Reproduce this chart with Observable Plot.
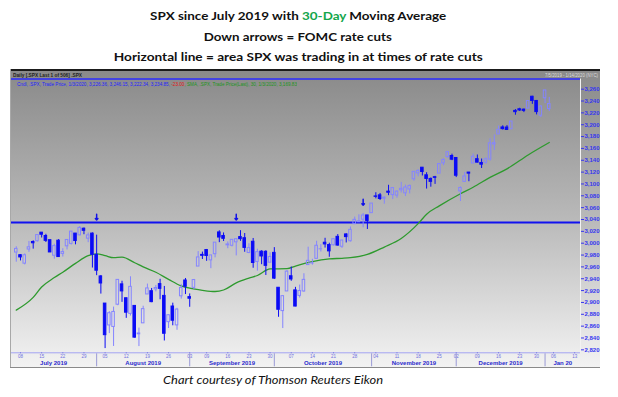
<!DOCTYPE html>
<html><head><meta charset="utf-8">
<script src="https://cdn.jsdelivr.net/npm/d3@7"></script>
<script src="https://cdn.jsdelivr.net/npm/@observablehq/plot@0.6"></script>
<style>
html,body{margin:0;padding:0;background:#fff;}
#page{position:relative;width:618px;height:397px;overflow:hidden;background:#fff;}
.t{position:absolute;left:0;width:596px;text-align:center;font-family:Lato,"Open Sans",sans-serif;font-weight:bold;font-size:12px;line-height:12px;color:#111;white-space:nowrap;}
.fit{display:inline-block;white-space:nowrap;transform-origin:center;}
.fitl{display:inline-block;white-space:nowrap;transform-origin:left center;}
#panel{position:absolute;left:10px;top:69px;width:590px;height:299px;background:linear-gradient(to bottom,#898989 0%,#b9b9b9 50%,#f3f3f3 100%);}
.small{position:absolute;font-family:"Liberation Sans",Arial,sans-serif;font-size:5.5px;line-height:6px;white-space:nowrap;}
#cap{position:absolute;top:374px;left:163px;font-family:Lato,"Open Sans",sans-serif;font-style:italic;font-size:12px;line-height:12px;color:#111;white-space:nowrap;}
</style></head>
<body>
<div id="page">
  <div class="t" style="top:10px"><span class="fit" data-w="296">SPX since July 2019 with <span style="color:#14a64b">30-Day</span> Moving Average</span></div>
  <div class="t" style="top:31px"><span class="fit" data-w="188">Down arrows = FOMC rate cuts</span></div>
  <div class="t" style="top:51px"><span class="fit" data-w="369">Horizontal line = area SPX was trading in at times of rate cuts</span></div>
  <div id="panel"></div>
  <div style="position:absolute;left:10px;top:69px;width:590px;height:2px;background:#1b1b1b"></div>
  <div style="position:absolute;left:10px;top:69px;width:1px;height:299px;background:#a8a8a8"></div>
  <div style="position:absolute;left:10px;top:367px;width:590px;height:1px;background:#8a8a8a"></div>
  <div class="small" style="left:13px;top:71.5px;color:#1e1e1e;font-weight:bold"><span class="fitl" data-w="69">Daily [.SPX Last 1 of 506] .SPX</span></div>
  <div class="small" style="left:545px;top:71.5px;color:#dcdcdc"><span class="fitl" data-w="53">7/5/2019 - 1/14/2020 (NYC)</span></div>
  <div class="small" style="left:17px;top:80.5px"><span class="fitl" data-w="280"><span style="color:#2323ff">Cndl, .SPX, Trade Price, 1/3/2020, 3,226.36, 3,246.15, 3,222.34, 3,234.85, </span><span style="color:#e01212">-23.00</span><span style="color:#1c951c">, SMA, .SPX, Trade Price(Last), 30, 1/3/2020, 3,169.83</span></span></div>
  <div id="cap"><span class="fitl" data-w="220">Chart courtesy of Thomson Reuters Eikon</span></div>
</div>
<script>
// ---- Daily candles (SPX), 5 Jul 2019 – 3 Jan 2020 ----
const dates = ["2019-07-05","2019-07-08","2019-07-09","2019-07-10","2019-07-11","2019-07-12","2019-07-15","2019-07-16","2019-07-17","2019-07-18","2019-07-19","2019-07-22","2019-07-23","2019-07-24","2019-07-25","2019-07-26","2019-07-29","2019-07-30","2019-07-31","2019-08-01","2019-08-02","2019-08-05","2019-08-06","2019-08-07","2019-08-08","2019-08-09","2019-08-12","2019-08-13","2019-08-14","2019-08-15","2019-08-16","2019-08-19","2019-08-20","2019-08-21","2019-08-22","2019-08-23","2019-08-26","2019-08-27","2019-08-28","2019-08-29","2019-08-30","2019-09-03","2019-09-04","2019-09-05","2019-09-06","2019-09-09","2019-09-10","2019-09-11","2019-09-12","2019-09-13","2019-09-16","2019-09-17","2019-09-18","2019-09-19","2019-09-20","2019-09-23","2019-09-24","2019-09-25","2019-09-26","2019-09-27","2019-09-30","2019-10-01","2019-10-02","2019-10-03","2019-10-04","2019-10-07","2019-10-08","2019-10-09","2019-10-10","2019-10-11","2019-10-14","2019-10-15","2019-10-16","2019-10-17","2019-10-18","2019-10-21","2019-10-22","2019-10-23","2019-10-24","2019-10-25","2019-10-28","2019-10-29","2019-10-30","2019-10-31","2019-11-01","2019-11-04","2019-11-05","2019-11-06","2019-11-07","2019-11-08","2019-11-11","2019-11-12","2019-11-13","2019-11-14","2019-11-15","2019-11-18","2019-11-19","2019-11-20","2019-11-21","2019-11-22","2019-11-25","2019-11-26","2019-11-27","2019-11-29","2019-12-02","2019-12-03","2019-12-04","2019-12-05","2019-12-06","2019-12-09","2019-12-10","2019-12-11","2019-12-12","2019-12-13","2019-12-16","2019-12-17","2019-12-18","2019-12-19","2019-12-20","2019-12-23","2019-12-24","2019-12-26","2019-12-27","2019-12-30","2019-12-31","2020-01-02","2020-01-03"];
const open  = [2984.25,2979.77,2965.52,2989.30,3002.05,3003.36,3017.80,3012.13,3005.10,2978.87,3004.26,2981.93,2994.74,2998.77,3016.26,3013.25,3024.47,3007.66,3016.22,2980.32,2943.90,2898.07,2861.18,2858.65,2896.21,2930.51,2907.07,2880.72,2894.15,2846.20,2864.74,2913.48,2919.01,2922.04,2930.94,2911.07,2866.70,2893.14,2861.28,2910.37,2937.09,2909.01,2924.67,2960.60,2980.33,2988.43,2971.01,2981.41,3018.21,3012.21,2996.41,2995.67,3001.50,3010.36,3008.42,2983.50,3002.43,2968.35,2985.73,2985.47,2967.07,2983.69,2924.78,2885.38,2918.56,2944.23,2920.40,2911.10,2918.55,2963.07,2965.81,2973.61,2989.68,3000.77,2996.84,2996.48,3010.73,2994.01,3014.78,3003.32,3032.12,3035.39,3039.74,3046.90,3050.72,3078.96,3080.80,3075.10,3087.02,3081.25,3080.33,3089.28,3084.18,3090.75,3107.92,3117.91,3127.45,3114.66,3108.49,3111.41,3117.44,3134.85,3145.49,3147.18,3143.85,3087.41,3103.50,3119.21,3134.62,3141.86,3135.36,3135.75,3141.23,3166.65,3183.63,3195.40,3195.21,3192.32,3223.33,3226.05,3225.45,3227.20,3247.23,3240.09,3215.18,3244.67,3226.36];
const high  = [2994.03,2980.76,2981.90,3002.98,3004.04,3013.92,3017.80,3015.02,3005.26,2998.28,3006.02,2990.71,3005.90,3019.59,3016.31,3027.98,3025.61,3017.19,3017.40,3013.59,2945.50,2898.07,2884.40,2892.17,2938.72,2935.75,2907.58,2943.31,2894.15,2856.67,2893.63,2931.00,2923.63,2928.73,2939.08,2927.01,2879.27,2898.79,2890.03,2930.50,2940.43,2914.39,2938.84,2985.86,2985.03,2989.43,2979.39,3000.93,3020.98,3017.33,3002.19,3006.21,3007.83,3021.19,3016.37,2999.15,3007.98,2989.82,2987.28,2987.31,2983.85,2992.53,2924.78,2911.13,2953.74,2959.75,2925.47,2929.32,2948.46,2993.28,2972.84,3003.28,2997.54,3008.29,3000.00,3007.33,3014.57,3004.78,3016.07,3027.39,3044.08,3047.87,3050.10,3046.90,3066.95,3085.20,3083.95,3078.34,3097.77,3093.09,3088.33,3102.61,3098.06,3098.20,3120.46,3124.17,3127.64,3118.97,3110.11,3112.87,3133.83,3142.69,3154.26,3150.30,3144.31,3094.97,3119.38,3119.45,3150.60,3148.87,3142.12,3143.98,3176.28,3182.68,3197.71,3198.22,3198.48,3205.48,3225.65,3227.78,3226.43,3240.08,3247.93,3240.92,3231.72,3258.14,3246.15];
const low   = [2967.97,2970.09,2963.44,2984.62,2989.99,3001.87,3008.77,3001.15,2984.25,2973.09,2975.86,2976.65,2988.56,2996.82,2997.24,3012.59,3014.30,3000.94,2958.08,2945.23,2914.11,2822.12,2847.42,2825.71,2894.47,2900.15,2873.14,2877.05,2839.64,2825.51,2864.74,2913.48,2899.60,2917.91,2904.51,2834.97,2856.00,2860.59,2853.05,2905.67,2913.32,2891.85,2921.86,2960.60,2972.51,2969.39,2957.01,2975.31,3000.92,3002.90,2990.67,2993.73,2978.57,3003.16,2984.68,2982.23,2957.73,2952.86,2963.71,2945.53,2967.07,2938.70,2874.93,2855.94,2918.56,2935.68,2892.66,2907.41,2917.12,2963.07,2962.94,2973.61,2985.20,2991.79,2976.31,2995.35,2995.04,2991.21,3000.42,3001.94,3032.12,3034.81,3025.96,3023.19,3050.72,3074.87,3072.15,3065.89,3080.23,3073.58,3075.82,3084.73,3078.80,3083.26,3104.60,3112.06,3113.47,3091.41,3094.55,3099.26,3117.44,3131.00,3143.41,3139.34,3110.78,3070.33,3102.53,3103.76,3134.62,3135.46,3126.09,3133.21,3138.47,3156.51,3183.63,3191.03,3191.14,3192.32,3216.03,3222.30,3220.51,3227.20,3234.37,3216.57,3212.03,3235.53,3222.34];
const close = [2990.41,2975.95,2979.63,2993.07,2999.91,3013.77,3014.30,3004.04,2984.42,2995.11,2976.61,2985.03,3005.47,3019.56,3003.67,3025.86,3020.97,3013.18,2980.38,2953.56,2932.05,2844.74,2881.77,2883.98,2938.09,2918.65,2882.70,2926.32,2840.60,2847.60,2888.68,2923.65,2900.51,2924.43,2922.95,2847.11,2878.38,2869.16,2887.94,2924.58,2926.46,2906.27,2937.78,2976.00,2978.71,2978.43,2979.39,3000.93,3009.57,3007.39,2997.96,3005.70,3006.73,3006.79,2992.07,2991.78,2966.60,2984.87,2977.62,2961.79,2976.74,2940.25,2887.61,2910.63,2952.01,2938.79,2893.06,2919.40,2938.13,2970.27,2966.15,2995.68,2989.69,2997.95,2986.20,3006.72,2995.99,3004.52,3010.29,3022.55,3039.42,3036.89,3046.77,3037.56,3066.91,3078.27,3074.62,3076.78,3085.18,3093.08,3087.01,3091.84,3094.04,3096.63,3120.46,3122.03,3120.18,3108.46,3103.54,3110.29,3133.64,3140.52,3153.63,3140.98,3113.87,3093.20,3112.76,3117.43,3145.91,3135.96,3132.52,3141.63,3168.57,3168.80,3191.45,3192.52,3191.14,3205.37,3221.22,3224.01,3223.38,3239.91,3240.02,3221.29,3230.78,3257.85,3234.85];

// trading sessions shown on the axis after the last candle
const futureDates = ["2020-01-06","2020-01-07","2020-01-08","2020-01-09","2020-01-10","2020-01-13","2020-01-14"];

// 30-day moving average
const maDates  = ["2019-07-05","2019-07-11","2019-07-15","2019-07-18","2019-07-22","2019-07-25","2019-07-30","2019-08-01","2019-08-05","2019-08-07","2019-08-09","2019-08-14","2019-08-16","2019-08-21","2019-08-26","2019-08-29","2019-09-03","2019-09-06","2019-09-11","2019-09-13","2019-09-18","2019-09-23","2019-09-25","2019-09-30","2019-10-04","2019-10-08","2019-10-14","2019-10-18","2019-10-23","2019-10-25","2019-10-31","2019-11-06","2019-11-12","2019-11-18","2019-11-20","2019-11-25","2019-12-03","2019-12-06","2019-12-12","2019-12-18","2019-12-26","2020-01-03"];
const maValues = [2887,2908.5,2926,2942,2951,2966,2979,2982,2979,2975.5,2976.5,2967,2960,2951,2939,2928,2924,2920.5,2918.5,2921,2933,2941,2945.5,2956.5,2957,2961.5,2969,2973.5,2974.5,2975.5,2981,2993.5,3008,3033,3049,3063,3083.5,3094.5,3111,3125.5,3149,3170];

// FOMC cut arrows (first one is drawn over the 1 Aug candle in the source)
const arrowDates  = ["2019-08-01","2019-09-18","2019-10-30"];
const arrowTop    = [3049,3049,3074];
const arrowBottom = [3039,3039,3064];

// horizontal level line
const levelLine = [3035];

// axes
const yTicks = [2820,2840,2860,2880,2900,2920,2940,2960,2980,3000,3020,3040,3060,3080,3100,3120,3140,3160,3180,3200,3220,3240,3260];
const xTickDates  = ["2019-07-08","2019-07-15","2019-07-22","2019-07-29","2019-08-05","2019-08-12","2019-08-19","2019-08-26","2019-09-03","2019-09-09","2019-09-16","2019-09-23","2019-09-30","2019-10-07","2019-10-14","2019-10-21","2019-10-28","2019-11-04","2019-11-11","2019-11-18","2019-11-25","2019-12-02","2019-12-09","2019-12-16","2019-12-23","2019-12-30","2020-01-06","2020-01-13"];
const xTickLabels = ["08","15","22","29","05","12","19","26","03","09","16","23","30","07","14","21","28","04","11","18","25","02","09","16","23","30","06","13"];
const monthKeys   = ["2019-07","2019-08","2019-09","2019-10","2019-11","2019-12","2020-01"];
const monthLabels = ["July 2019","August 2019","September 2019","October 2019","November 2019","December 2019","Jan 20"];

function draw(){
  const axisDates = dates.concat(futureDates);
  const idx = new Map(axisDates.map((d,i)=>[d,i]));
  const X0 = -1.364, X1 = 133.38, Y0 = 2815, Y1 = 3277;
  const candles = dates.map((d,i)=>({i, open:open[i], high:high[i], low:low[i], close:close[i]}));
  const ups = candles.filter(d=>d.close>=d.open), downs = candles.filter(d=>d.close<d.open);
  const ma = maDates.map((d,k)=>({i: idx.get(d), v: maValues[k]}));
  const arrows = arrowDates.map((d,k)=>({i: idx.get(d), top: arrowTop[k], bottom: arrowBottom[k]}));
  const tickIdx = xTickDates.map(d=>idx.get(d));
  const tickMap = new Map(tickIdx.map((v,k)=>[v, xTickLabels[k]]));
  const starts = monthKeys.map(m=>axisDates.findIndex(d=>d.startsWith(m)));
  const seps = starts.slice(1);
  const months = monthLabels.map((lab,k)=>{
    const a = k===0 ? X0 : starts[k];
    const b = k===monthKeys.length-1 ? X1 : starts[k+1];
    return {c:(a+b)/2, label:lab};
  });
  const upC = "#8585ff", dnC = "#0b0bf5", HW = 0.3;
  const H = 299, mT = 9.6, mB = 15.7, plotH = H - mT - mB;

  const chart = Plot.plot({
    width: 590, height: H, marginLeft: 0, marginRight: 20, marginTop: mT, marginBottom: mB,
    style: {background: "transparent", fontFamily: "'Liberation Sans', Arial, sans-serif", overflow: "visible"},
    x: {type: "linear", domain: [X0, X1], axis: null},
    y: {domain: [Y0, Y1], axis: null},
    marks: [
      Plot.ruleY([Y0], {stroke: "#a3a3f2", strokeWidth: 1}),
      Plot.ruleX([X1], {stroke: "#f2f2f2", strokeWidth: 1}),
      Plot.ruleY([Y1], {stroke: "#2b2bff", strokeWidth: 1.5}),
      Plot.ruleY(levelLine, {stroke: "#1111f0", strokeWidth: 2}),
      Plot.line(ma, {x: "i", y: "v", stroke: "#2e9a2e", strokeWidth: 1.3, curve: "monotone-x"}),
      Plot.ruleX(ups,   {x: "i", y1: d=>Math.max(d.open,d.close), y2: "high", stroke: upC}),
      Plot.ruleX(ups,   {x: "i", y1: "low", y2: d=>Math.min(d.open,d.close), stroke: upC}),
      Plot.ruleX(downs, {x: "i", y1: d=>Math.max(d.open,d.close), y2: "high", stroke: dnC}),
      Plot.ruleX(downs, {x: "i", y1: "low", y2: d=>Math.min(d.open,d.close), stroke: dnC}),
      Plot.rect(ups,   {x1: d=>d.i-HW, x2: d=>d.i+HW, y1: "open", y2: "close", fill: "none", stroke: upC, strokeWidth: 1}),
      Plot.rect(downs, {x1: d=>d.i-HW, x2: d=>d.i+HW, y1: "open", y2: "close", fill: dnC, stroke: dnC, strokeWidth: 1}),
      Plot.arrow(arrows, {x1: "i", x2: "i", y1: "top", y2: "bottom", stroke: "#1010e8", strokeWidth: 1.5, headLength: 4, headAngle: 80}),
      Plot.axisY({ticks: yTicks, anchor: "right", tickFormat: d3.format(","), tickSize: 3, tickPadding: 1, fontSize: 6, fontWeight: "bold", color: "#3636f0", label: null}),
      Plot.axisX({ticks: tickIdx, anchor: "bottom", tickFormat: d=>tickMap.get(d), tickSize: 1, tickPadding: 0.5, fontSize: 4.5, color: "#7070e0", label: null}),
      Plot.ruleX(seps, {stroke: "#9a9ad6", insetTop: plotH + 1, insetBottom: -14}),
      Plot.text(months, {x: "c", text: "label", frameAnchor: "bottom", dy: 12, fontSize: 6, fontWeight: "bold", fill: "#2b2bcc"})
    ]
  });
  document.getElementById("panel").appendChild(chart);

  document.querySelectorAll("[data-w]").forEach(el=>{
    const w = el.getBoundingClientRect().width;
    if (w>0) el.style.transform = `scaleX(${(+el.dataset.w)/w})`;
  });
}
(document.fonts && document.fonts.ready ? document.fonts.ready : Promise.resolve()).then(draw);
</script>
</body></html>
